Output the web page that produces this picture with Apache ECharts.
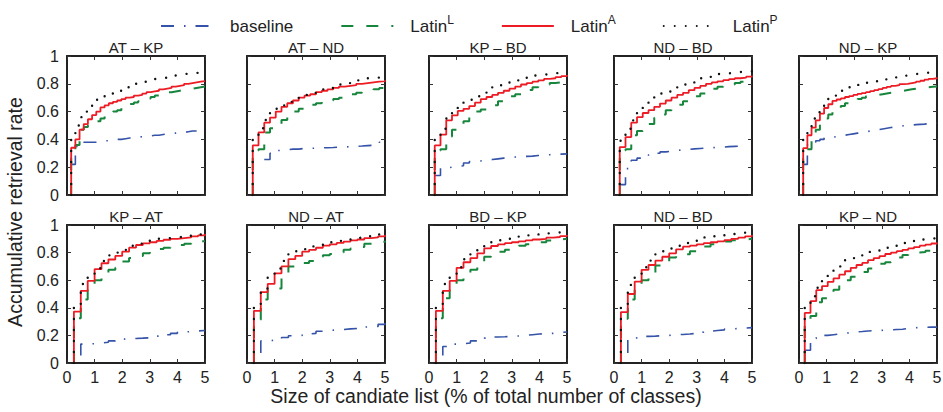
<!DOCTYPE html>
<html><head><meta charset="utf-8">
<script src="https://cdn.jsdelivr.net/npm/echarts@6/dist/echarts.min.js"></script>
<style>html,body{margin:0;padding:0;background:#fff}#c{width:943px;height:412px}</style>
</head><body><div id="c"></div>
<script>
// ---------------- data ----------------
const panelTitles = ['AT – KP', 'AT – ND', 'KP – BD', 'ND – BD', 'ND – KP',
                     'KP – AT', 'ND – AT', 'BD – KP', 'ND – BD', 'KP – ND'];
// number of list-size steps between 0 and 5 % of classes for each panel
const stepCounts = [33, 24, 24, 24, 33, 20, 20, 20, 20, 24];
const seriesNames = ['baseline', 'LatinL', 'LatinA', 'LatinP'];
const xTickLabels = [0, 1, 2, 3, 4, 5];
const yTickLabels = [0, 0.2, 0.4, 0.6, 0.8, 1];
const xAxisTitle = 'Size of candiate list (% of total number of classes)';
const yAxisTitle = 'Accumulative retrieval rate';

// first value = starting level of the first vertical step, then one value per step
const base_AT_KP = [null, 0.22,0.35,0.37,0.38,0.38,0.38,0.385,0.39,0.39,0.395,0.40,0.40,0.405,0.41,0.41,0.415,0.42,0.42,0.425,0.43,0.43,0.435,0.44,0.44,0.445,0.45,0.45,0.455,0.46,0.46,0.46,null,null];
const latL_AT_KP = [0, 0.29,0.36,0.47,0.49,0.50,0.52,0.53,0.55,0.57,0.58,0.60,0.61,0.625,0.64,0.655,0.665,0.675,0.685,0.695,0.705,0.715,0.72,0.73,0.74,0.745,0.75,0.755,0.76,0.765,0.77,0.775,0.78,0.785];
const latA_AT_KP = [0, 0.34,0.40,0.47,0.51,0.545,0.575,0.60,0.63,0.645,0.66,0.67,0.68,0.69,0.70,0.705,0.715,0.72,0.73,0.74,0.745,0.75,0.76,0.765,0.77,0.78,0.785,0.79,0.80,0.805,0.81,0.815,0.82,0.825];
const latP_AT_KP = [0, 0.42,0.50,0.56,0.60,0.63,0.665,0.685,0.70,0.715,0.73,0.74,0.75,0.765,0.775,0.785,0.80,0.805,0.815,0.82,0.825,0.835,0.84,0.845,0.855,0.86,0.865,0.87,0.872,0.875,0.878,0.88,0.885,0.89];

const base_AT_ND = [null, null,null,0.255,0.30,0.32,0.325,0.33,0.33,0.335,0.335,0.337,0.34,0.34,0.342,0.345,0.345,0.348,0.35,0.352,0.355,0.358,0.36,0.38,0.38];
const latL_AT_ND = [0, 0.32,0.33,0.45,0.48,0.51,0.54,0.57,0.60,0.62,0.635,0.65,0.66,0.67,0.68,0.69,0.70,0.715,0.725,0.735,0.745,0.75,0.76,0.77,0.79];
const latA_AT_ND = [0, 0.357,0.45,0.52,0.557,0.60,0.634,0.66,0.68,0.70,0.715,0.725,0.74,0.75,0.76,0.77,0.78,0.785,0.79,0.80,0.805,0.81,0.815,0.82,0.826];
const latP_AT_ND = [0, 0.42,0.48,0.54,0.59,0.62,0.645,0.67,0.69,0.705,0.72,0.735,0.75,0.76,0.77,0.785,0.795,0.805,0.815,0.825,0.83,0.84,0.845,0.855,0.86];

const base_KP_BD = [null, 0.14,0.195,0.20,0.205,0.21,0.23,0.24,0.245,0.25,0.255,0.26,0.265,0.27,0.273,0.276,0.278,0.28,0.284,0.286,0.29,0.292,0.294,0.296,0.298];
const latL_KP_BD = [0, 0.32,0.33,0.42,0.47,0.505,0.53,0.57,0.60,0.615,0.63,0.645,0.675,0.70,0.71,0.725,0.74,0.755,0.775,0.785,0.795,0.805,0.81,0.815,0.82];
const latA_KP_BD = [0, 0.357,0.434,0.537,0.573,0.605,0.62,0.64,0.665,0.69,0.705,0.72,0.735,0.75,0.765,0.78,0.795,0.805,0.815,0.825,0.835,0.84,0.848,0.855,0.863];
const latP_KP_BD = [0, 0.40,0.477,0.55,0.60,0.64,0.665,0.685,0.71,0.735,0.755,0.775,0.79,0.80,0.815,0.825,0.84,0.85,0.86,0.865,0.87,0.875,0.88,0.884,0.89];

const base_ND_BD1 = [null, 0.075,0.19,0.25,0.265,0.28,0.29,0.30,0.31,0.315,0.32,0.325,0.328,0.332,0.335,0.338,0.34,0.343,0.345,0.348,0.35,0.352,0.354,0.355,null];
const latL_ND_BD1 = [0, 0.32,0.33,0.43,0.46,0.485,0.51,0.555,0.58,0.61,0.63,0.65,0.675,0.695,0.71,0.73,0.755,0.765,0.778,0.785,0.795,0.805,0.815,0.825,0.83];
const latA_ND_BD1 = [0, 0.345,0.417,0.52,0.56,0.59,0.61,0.634,0.658,0.68,0.70,0.72,0.735,0.754,0.77,0.785,0.80,0.81,0.818,0.826,0.833,0.84,0.845,0.852,0.858];
const latP_ND_BD1 = [0, 0.39,0.477,0.537,0.60,0.655,0.70,0.715,0.73,0.745,0.765,0.78,0.795,0.81,0.825,0.84,0.85,0.86,0.87,0.875,0.88,0.885,0.89,0.89,0.895];

const base_ND_KP = [null, 0.22,0.36,0.38,0.39,0.40,0.41,0.415,0.42,0.425,0.43,0.435,0.44,0.445,0.45,0.455,0.46,0.465,0.47,0.475,0.48,0.485,0.49,0.494,0.498,0.50,0.503,0.506,0.508,0.51,0.513,0.515,0.517,0.52];
const latL_ND_KP = [0, 0.26,0.33,0.42,0.47,0.52,0.55,0.58,0.60,0.62,0.64,0.66,0.67,0.68,0.69,0.70,0.71,0.715,0.72,0.725,0.73,0.735,0.74,0.745,0.75,0.755,0.76,0.765,0.77,0.772,0.775,0.778,0.78,0.783];
const latA_ND_KP = [0, 0.337,0.43,0.484,0.537,0.585,0.626,0.653,0.677,0.687,0.695,0.705,0.712,0.72,0.727,0.733,0.74,0.748,0.755,0.762,0.77,0.778,0.785,0.79,0.797,0.80,0.805,0.81,0.816,0.822,0.83,0.836,0.84,0.846];
const latP_ND_KP = [0, 0.41,0.49,0.55,0.595,0.635,0.67,0.695,0.715,0.73,0.75,0.765,0.775,0.785,0.792,0.80,0.808,0.815,0.82,0.826,0.832,0.84,0.845,0.85,0.856,0.86,0.865,0.87,0.874,0.877,0.88,0.883,0.886,0.89];

const base_KP_AT = [0.055, null,0.137,0.14,0.145,0.15,0.16,0.172,0.175,0.178,0.18,0.183,0.186,0.195,0.205,0.215,0.224,0.228,0.232,0.236,0.24];
const latL_KP_AT = [0, 0.325,0.46,0.54,0.60,0.65,0.675,0.69,0.735,0.76,0.775,0.795,0.81,0.826,0.835,0.845,0.855,0.865,0.875,0.882,0.887];
const latA_KP_AT = [0, 0.373,0.523,0.595,0.68,0.723,0.75,0.776,0.807,0.836,0.855,0.867,0.875,0.885,0.893,0.90,0.905,0.91,0.918,0.925,0.935];
const latP_KP_AT = [0, 0.41,0.573,0.634,0.687,0.74,0.78,0.80,0.82,0.85,0.865,0.875,0.89,0.90,0.905,0.91,0.915,0.922,0.93,0.935,0.94];

const base_ND_AT = [0.072, null,0.16,0.165,0.175,0.185,0.198,0.20,0.21,0.215,0.23,0.235,0.24,0.243,0.247,0.25,0.26,0.262,0.265,0.28,0.29];
const latL_ND_AT = [0, 0.313,0.46,0.53,0.54,0.615,0.70,0.71,0.725,0.74,0.77,0.78,0.79,0.80,0.82,0.83,0.84,0.865,0.87,0.878,0.885];
const latA_ND_AT = [0, 0.378,0.513,0.573,0.65,0.70,0.752,0.776,0.807,0.82,0.835,0.85,0.86,0.87,0.88,0.888,0.895,0.905,0.91,0.918,0.928];
const latP_ND_AT = [0, 0.42,0.54,0.62,0.685,0.74,0.79,0.81,0.825,0.845,0.855,0.865,0.875,0.885,0.895,0.905,0.91,0.918,0.925,0.932,0.94];

const base_BD_KP = [0.055, null,0.12,0.137,0.14,0.145,0.16,0.173,0.18,0.188,0.19,0.193,0.196,0.20,0.205,0.21,0.212,0.215,0.22,0.225,0.229];
const latL_BD_KP = [0, 0.325,0.47,0.55,0.60,0.64,0.675,0.70,0.77,0.79,0.807,0.82,0.843,0.85,0.86,0.865,0.875,0.887,0.895,0.90,0.904];
const latA_BD_KP = [0, 0.378,0.523,0.595,0.69,0.73,0.76,0.795,0.83,0.848,0.86,0.868,0.875,0.882,0.888,0.895,0.90,0.908,0.913,0.92,0.928];
const latP_BD_KP = [0, 0.414,0.573,0.634,0.694,0.752,0.80,0.835,0.86,0.875,0.89,0.90,0.91,0.918,0.925,0.932,0.938,0.942,0.946,0.95,0.952];

const base_ND_BD2 = [0.072, null,0.18,0.185,0.193,0.195,0.198,0.20,0.205,0.207,0.21,0.215,0.224,0.23,0.235,0.24,0.246,0.25,0.253,0.256,0.26];
const latL_ND_BD2 = [0, 0.32,0.46,0.547,0.60,0.64,0.706,0.72,0.764,0.775,0.788,0.81,0.83,0.845,0.86,0.865,0.88,0.89,0.895,0.90,0.904];
const latA_ND_BD2 = [0, 0.369,0.50,0.59,0.675,0.71,0.742,0.77,0.795,0.824,0.843,0.85,0.86,0.868,0.875,0.882,0.89,0.90,0.908,0.918,0.928];
const latP_ND_BD2 = [0, 0.414,0.566,0.634,0.694,0.742,0.79,0.81,0.83,0.85,0.87,0.885,0.90,0.91,0.918,0.925,0.932,0.937,0.942,0.948,0.952];

const base_KP_ND = [null, 0.092,0.177,0.19,0.20,0.205,0.21,0.215,0.22,0.225,0.228,0.232,0.234,0.236,0.238,0.24,0.243,0.245,0.25,0.255,0.257,0.258,0.26,0.26,0.26];
const latL_KP_ND = [0, 0.305,0.34,0.44,0.47,0.50,0.53,0.57,0.60,0.625,0.64,0.66,0.685,0.70,0.72,0.73,0.758,0.765,0.782,0.79,0.80,0.805,0.813,0.82,0.83];
const latA_KP_ND = [0, 0.363,0.448,0.528,0.557,0.588,0.613,0.64,0.665,0.69,0.71,0.725,0.745,0.76,0.775,0.79,0.80,0.81,0.82,0.83,0.84,0.85,0.858,0.866,0.874];
const latP_KP_ND = [0, 0.41,0.484,0.545,0.605,0.655,0.675,0.70,0.745,0.76,0.775,0.79,0.805,0.815,0.825,0.835,0.85,0.86,0.87,0.88,0.888,0.895,0.90,0.905,0.91];

const panelSeries = [
  [base_AT_KP, latL_AT_KP, latA_AT_KP, latP_AT_KP],
  [base_AT_ND, latL_AT_ND, latA_AT_ND, latP_AT_ND],
  [base_KP_BD, latL_KP_BD, latA_KP_BD, latP_KP_BD],
  [base_ND_BD1, latL_ND_BD1, latA_ND_BD1, latP_ND_BD1],
  [base_ND_KP, latL_ND_KP, latA_ND_KP, latP_ND_KP],
  [base_KP_AT, latL_KP_AT, latA_KP_AT, latP_KP_AT],
  [base_ND_AT, latL_ND_AT, latA_ND_AT, latP_ND_AT],
  [base_BD_KP, latL_BD_KP, latA_BD_KP, latP_BD_KP],
  [base_ND_BD2, latL_ND_BD2, latA_ND_BD2, latP_ND_BD2],
  [base_KP_ND, latL_KP_ND, latA_KP_ND, latP_KP_ND]
];

// ---------------- layout & style ----------------
const FONT = '"Liberation Sans", Arial, Helvetica, sans-serif';
const colLeft = [67, 247, 429, 614, 799];
const rowTop = [56, 225];
const panelW = 138;
const panelH = [139, 138];
const frameColor = '#222';

const styles = {
  baseline: { color: '#3553a8', lineStyle: { width: 1.6, type: [13, 10, 1.5, 10] } },
  LatinL:   { color: '#17863d', lineStyle: { width: 2, type: [12, 13] } },
  LatinA:   { color: '#ed1c24', lineStyle: { width: 1.8, type: 'solid' } },
  LatinP:   { color: '#111111', lineStyle: { width: 2.4, type: [0.01, 11], cap: 'round' } }
};

function buildSteps(arr, n) {
  const out = [];
  let started = false;
  for (let k = 1; k <= n; k++) {
    const v = arr[k];
    if (v === null || v === undefined) continue;
    const x = k * 5 / n;
    if (!started) {
      if (arr[0] !== null) out.push([x, arr[0]]);
      started = true;
    }
    out.push([x, v]);
  }
  return out;
}

const grids = [], xAxes = [], yAxes = [], series = [], graphics = [];
panelTitles.forEach((t, i) => {
  const row = Math.floor(i / 5), col = i % 5;
  const left = colLeft[col], top = rowTop[row], h = panelH[row];
  grids.push({ left: left, top: top, width: panelW, height: h, containLabel: false, outerBoundsMode: 'none' });
  const axLine = { show: true, onZero: false, lineStyle: { color: frameColor, width: 2 } };
  const tick = { show: true, inside: true, length: 4, lineStyle: { color: '#333', width: 1 } };
  const xCommon = { gridIndex: i, type: 'value', min: xTickLabels[0], max: xTickLabels[xTickLabels.length - 1],
    interval: xTickLabels[1] - xTickLabels[0], splitLine: { show: false }, axisLine: axLine, axisTick: tick };
  xAxes.push(Object.assign({}, xCommon, { position: 'bottom',
    axisLabel: { show: row === 1, margin: 6, fontSize: 16, color: '#222', fontFamily: FONT } }));
  xAxes.push(Object.assign({}, xCommon, { position: 'top', axisLabel: { show: false } }));
  const yCommon = { gridIndex: i, type: 'value', min: yTickLabels[0], max: yTickLabels[yTickLabels.length - 1],
    interval: 0.2, splitLine: { show: false }, axisLine: axLine, axisTick: tick };
  yAxes.push(Object.assign({}, yCommon, { position: 'left',
    axisLabel: { show: col === 0, margin: 8, fontSize: 16, color: '#222', fontFamily: FONT } }));
  yAxes.push(Object.assign({}, yCommon, { position: 'right', axisLabel: { show: false } }));

  panelSeries[i].forEach((arr, s) => {
    const name = seriesNames[s];
    series.push({
      name: name, type: 'line', xAxisIndex: 2 * i, yAxisIndex: 2 * i,
      step: 'end', symbol: 'none', showSymbol: false, animation: false,
      color: styles[name].color,
      lineStyle: Object.assign({ color: styles[name].color }, styles[name].lineStyle),
      data: buildSteps(arr, stepCounts[i]), z: 2 + s
    });
  });

  graphics.push({ type: 'text', x: left + panelW / 2, y: top - 9,
    style: { text: t, align: 'center', verticalAlign: 'middle', font: '15px ' + FONT, fill: '#222' } });
});

graphics.push({ type: 'text', x: 486, y: 396,
  style: { text: xAxisTitle, align: 'center', verticalAlign: 'middle', font: '19.5px ' + FONT, fill: '#222' } });
graphics.push({ type: 'text', x: 15, y: 212, rotation: Math.PI / 2,
  style: { text: yAxisTitle, align: 'center', verticalAlign: 'middle', font: '19.5px ' + FONT, fill: '#222' } });

const chart = echarts.init(document.getElementById('c'), null, { renderer: 'svg' });
chart.setOption({
  animation: false,
  backgroundColor: '#fff',
  grid: grids, xAxis: xAxes, yAxis: yAxes, series: series, graphic: graphics,
  legend: {
    data: seriesNames, left: 155, top: 9, itemWidth: 52, itemHeight: 14, itemGap: 47,
    itemStyle: { opacity: 0, color: 'rgba(0,0,0,0)', borderWidth: 0 },
    formatter: n => n === 'baseline' ? n : 'Latin{s|' + n.slice(5) + '}',
    textStyle: {
      fontFamily: FONT, fontSize: 17, color: '#222', lineHeight: 24,
      padding: [0, 0, 0, 12],
      rich: { s: { fontFamily: FONT, fontSize: 12, lineHeight: 13, verticalAlign: 'top', color: '#222' } }
    }
  }
});
</script></body></html>
